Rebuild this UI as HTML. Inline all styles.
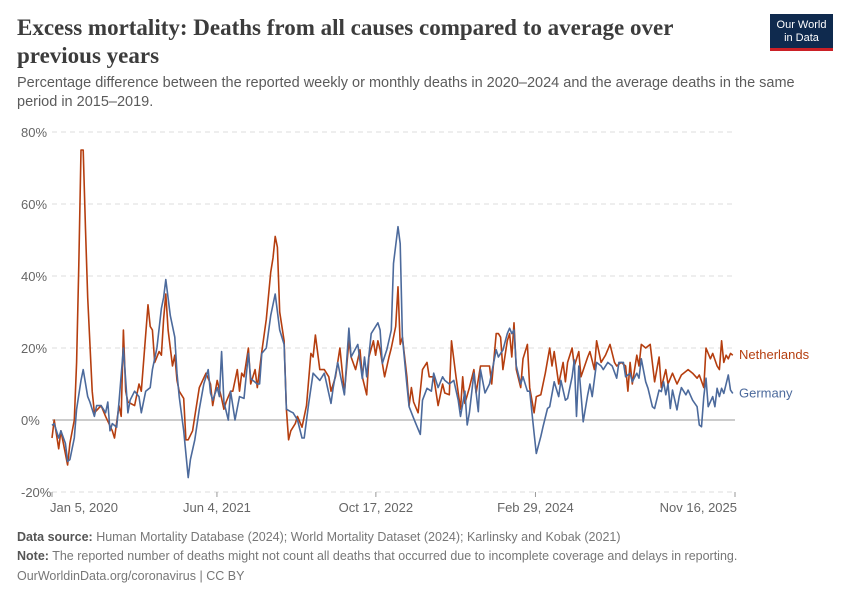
<!DOCTYPE html>
<html><head><meta charset="utf-8"><style>
body{margin:0;background:#fff;width:850px;height:600px;overflow:hidden;font-family:"Liberation Sans",sans-serif;position:relative}
.t{position:absolute;left:17px;top:14px;font-family:"Liberation Serif",serif;font-size:23px;font-weight:bold;color:#3c3c3c;line-height:28px;width:700px}
.s{position:absolute;left:17px;top:74px;font-size:14.5px;color:#5b5b5b;line-height:19px;width:800px}
.logo{position:absolute;left:770px;top:14px;width:63px;height:37px;background:#0f2a4e;color:#fff;font-size:11px;text-align:center;line-height:13px;padding-top:5px;box-sizing:border-box;border-bottom:3px solid #cb2026}
.f{position:absolute;left:17px;font-size:12.5px;color:#777}
.f b{color:#555}
</style></head><body>
<div class="t">Excess mortality: Deaths from all causes compared to average over previous years</div>
<div class="s">Percentage difference between the reported weekly or monthly deaths in 2020–2024 and the average deaths in the same period in 2015–2019.</div>
<div class="logo">Our World<br>in Data</div>
<svg id="c" width="850" height="600" style="position:absolute;left:0;top:0"></svg>
<div class="f" style="top:530px"><b>Data source:</b> Human Mortality Database (2024); World Mortality Dataset (2024); Karlinsky and Kobak (2021)</div>
<div class="f" style="top:549px"><b>Note:</b> The reported number of deaths might not count all deaths that occurred due to incomplete coverage and delays in reporting.</div>
<div class="f" style="top:569px">OurWorldinData.org/coronavirus | CC BY</div>
<script>
const yTicks=[-20,0,20,40,60,80];
const yTickLabels=["-20%","0%","20%","40%","60%","80%"];
const xTickWeeks=[0,73.9,145.1,216.6,306];
const xTickLabels=["Jan 5, 2020","Jun 4, 2021","Oct 17, 2022","Feb 29, 2024","Nov 16, 2025"];
const nlWeeks=[0,1,3,4,7,8,10,11,12,13,14,15,16,18,19,22,24,27,28,30,31,32,33,34,37,39,40,43,44,45,46,48,49,50,51,52,54,55,56,57,59,60,61,63,64,66,69,71,72,74,76,77,78,80,81,83,84,85,86,88,89,91,92,94,96,98,99,100,101,102,104,105,106,107,109,110,112,114,116,117,118,120,122,124,125,127,129,131,133,134,136,138,139,141,142,144,145,146,147,149,151,152,154,155,156,157,159,160,161,162,164,166,168,169,171,173,175,176,178,179,181,183,184,185,187,189,190,192,193,196,197,199,200,201,202,204,205,206,207,208,210,211,213,214,216,217,219,221,223,224,225,227,229,230,231,233,234,236,237,240,241,243,244,246,248,250,252,253,255,257,258,259,260,262,263,264,266,268,270,272,273,275,276,278,280,282,285,287,289,290,292,293,295,296,298,299,300,301,302,303,304,305];
const nlValues=[-5,0,-8,-3,-12.5,-6.5,0,16,43,75,75,53,34,8,2,4,1,-3,-5,4,1,25,8,5,4,10,8,32,26,25,16,19,18,28,35,25,15,18,11,8,6,-5.5,-5.5,-3,1,9,13,10,4,11,6,3,5,8,8,14,8,13,12,20,10,14,9,19,28,41,45,51,48,30,22,3,-5.5,-3,-1,1,-2,4,18.5,17.5,23.6,14,14,12,8,12,20,7.5,22,17.5,14,19.5,12,7,17.5,22,18,22,19.5,12,17.5,20,26,37,21,23,12,4,9,5,2,14,16,12,12,4,10,7.5,7,22,12,3,12,4.6,9,14,7.5,15,15,15,10,24,24,23,14,22,24,17.5,27,14,9,17,21,9,2,6.5,7,13,20,15,19,10,16,10.6,16,20,15,19,12,17.5,19,14,22,16,18,21,16,15,16,15,8,16,10,18,15,21,20,21,10.6,17.5,9,14,10,13,10,12.5,14,13,11.6,12.5,9,20,17,18.5,15,14,22,16,18,17,18.5,18];
const deWeeks=[0,1,3,4,6,7,8,10,11,13,14,16,17,19,20,22,24,25,26,27,29,30,32,33,34,35,37,39,40,42,44,45,47,49,50,51,53,55,56,57,59,61,62,64,66,68,70,71,72,74,75,76,77,79,80,82,84,86,88,89,92,93,94,96,98,100,102,104,105,107,108,110,112,113,115,117,120,122,125,126,128,131,133,134,137,139,140,141,143,146,147,148,150,152,153,155,156,157,159,160,162,163,165,166,168,170,171,173,175,176,178,180,182,183,185,186,187,189,191,192,194,196,199,200,201,202,204,205,206,207,208,210,211,213,214,216,217,219,220,222,223,225,227,228,230,231,233,234,235,236,238,240,241,242,244,246,247,249,251,253,254,256,257,259,260,262,263,264,266,267,269,270,272,273,274,275,276,277,278,280,281,282,284,285,287,289,290,291,292,293,294,296,297,298,299,300,301,303,304,305];
const deValues=[-1.5,-1,-5,-3,-6.5,-11.5,-11,-5,3,11,14,6.5,5,1,4,4,2,5,-3,-1,-2,5,20,11,2,5.5,8,6.5,2,8,9,14,20,31,34,39,29,23,13,6.5,-3,-16,-11,-5.5,3,10,14,7.5,5.5,9,6.5,19,5,0,8,0,6.5,6,18.5,11.5,10,10,18.5,20,29,35,25,21,3,2.3,2,0,-5,-5,4.6,13,11,13,4.6,9,16,7,25.5,17.5,21,11.5,17.5,12,24,27,25,15.7,19.5,25,43.5,53.7,49,23,9.7,3.7,0.5,-1,-4,5.5,8.8,8,13,9,12,11,10,11,5.5,1,8,-1.4,2,13,2.3,14,7.5,10,19.5,17.5,18.5,19.4,24,25.5,24,25,15,10,12,8,8,-3.7,-9.3,-4.6,-1.9,3.2,3.7,10.6,6.5,11,5.5,6,12,16.7,1,15,-0.5,7,10,6.5,16,15,14,16,15,11.6,16,16,12,13,10.6,13,11.6,17,10.6,8.8,3.7,3.2,8.3,7.9,10.6,7,10,3.2,8.3,2.8,6.5,9,7,8.3,5.5,3.7,-1.4,-1.9,6.5,11.6,3.7,6.5,3.7,8.8,6.5,8.8,7.4,12.5,8.3,7.4];
const NS="http://www.w3.org/2000/svg";
const svg=document.getElementById('c');
const X0=52,X1=735,Y0=420,PX=3.6;
function xs(w){return X0+(X1-X0)*w/306;}
function ys(v){return Y0-v*PX;}
function mk(t,a){const e=document.createElementNS(NS,t);for(const k in a)e.setAttribute(k,a[k]);svg.appendChild(e);return e;}
yTicks.forEach((v,i)=>{
  const l=mk('line',{x1:52,x2:735,y1:ys(v),y2:ys(v),stroke:v===0?'#bbb':'#ddd','stroke-width':v===0?1.5:1,'stroke-dasharray':v===0?'none':'5,4'});
  
  
  const t=mk('text',{x:21,y:ys(v)+5,'font-size':13,fill:'#666','font-family':'Liberation Sans,sans-serif'});
  t.textContent=yTickLabels[i];
  
  
});
xTickWeeks.forEach((w,i)=>{
  const x=xs(w);
  const l=mk('line',{x1:x,x2:x,y1:492,y2:497,stroke:'#999'});
  
  
  const anchor=i===0?'start':(i===xTickWeeks.length-1?'end':'middle');
  const t=mk('text',{x:i===0?x-2:(i===xTickWeeks.length-1?x+2:x),y:512,'font-size':13,fill:'#666','text-anchor':anchor,'font-family':'Liberation Sans,sans-serif'});
  t.textContent=xTickLabels[i];
  
  
});
function series(ws,vs,col,name,label){
  const d=ws.map((w,i)=>(i?'L':'M')+xs(w).toFixed(1)+','+ys(vs[i]).toFixed(1)).join('');
  const p=mk('path',{d:d,fill:'none',stroke:col,'stroke-width':1.6,'stroke-linejoin':'round'});
  
  
  const t=mk('text',{x:739,y:ys(vs[vs.length-1])+4,'font-size':13,fill:col,'font-family':'Liberation Sans,sans-serif'});
  t.textContent=label;
  
  
}
series(nlWeeks,nlValues,'#b53e0f','netherlands','Netherlands');
series(deWeeks,deValues,'#4c6a9c','germany','Germany');
</script>
</body></html>
